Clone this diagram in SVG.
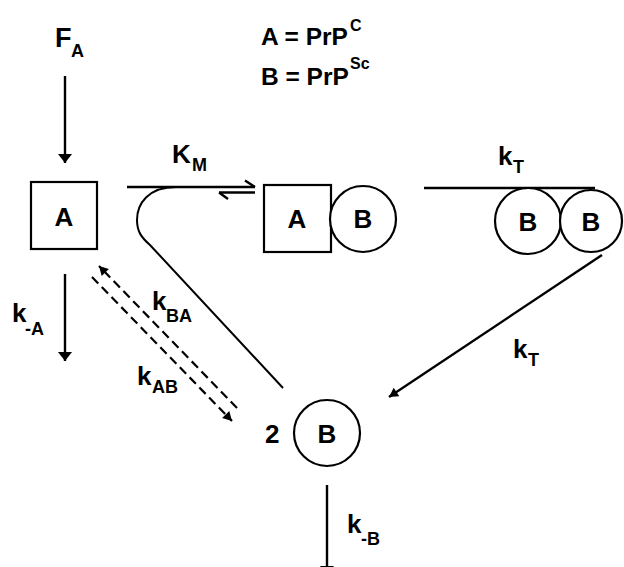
<svg xmlns="http://www.w3.org/2000/svg" width="624" height="567" viewBox="0 0 624 567">
  <style>
    text { font-family: "Liberation Sans", Arial, sans-serif; font-weight: bold; fill: #000; }
    .lbl { font-size: 26px; }
    .big { font-size: 27px; }
    .leg { font-size: 24.5px; }
    .sub { font-size: 18px; }
    .sup { font-size: 16px; }
    .mid { text-anchor: middle; }
    .shape { fill: #fff; stroke: #000; stroke-width: 2.2; }
    .conn { fill: none; stroke: #000; stroke-width: 2.4; }
    .thin { fill: none; stroke: #000; stroke-width: 2; }
    .dash { fill: none; stroke: #000; stroke-width: 2.2; stroke-dasharray: 9 5; }
  </style>
  <defs>
    <marker id="ah" viewBox="-11 -9 13 18" refX="0" refY="0" markerWidth="13" markerHeight="18" markerUnits="userSpaceOnUse" orient="auto">
      <path d="M-9,-7 L0,0 L-9,7 z" fill="#000"/>
    </marker>
    <marker id="ahs" viewBox="-10 -7 12 14" refX="0" refY="0" markerWidth="12" markerHeight="14" markerUnits="userSpaceOnUse" orient="auto">
      <path d="M-9,-5 L0,0 L-9,5 z" fill="#000"/>
    </marker>
  </defs>

  <rect width="624" height="567" fill="#fff"/>

  <!-- legend -->
  <g id="legend">
    <text class="leg" x="261" y="45">A = PrP</text>
    <text class="sup" x="350" y="31">C</text>
    <text class="leg" x="261" y="85">B = PrP</text>
    <text class="sup" x="350" y="69">Sc</text>
  </g>

  <!-- connectors -->
  <g id="connectors">
    <!-- influx of A -->
    <line class="conn" x1="65" y1="76" x2="65" y2="163" marker-end="url(#ah)"/>
    <!-- clearance of A -->
    <line class="conn" x1="65" y1="274" x2="65" y2="361" marker-end="url(#ah)"/>
    <!-- clearance of B -->
    <line class="conn" x1="327" y1="485" x2="327" y2="575" marker-end="url(#ah)"/>
    <!-- association equilibrium (K_M) -->
    <line class="conn" x1="127" y1="187" x2="255" y2="187"/>
    <line class="conn" x1="245" y1="180.5" x2="255" y2="187"/>
    <line class="conn" x1="219" y1="192.5" x2="255" y2="192.5"/>
    <line class="conn" x1="219" y1="192.5" x2="228" y2="199"/>
    <!-- B feeding into the association -->
    <path class="thin" d="M176 187 C148 187 137 204 137 220 C137 232 142 238 150 245 L283 388"/>
    <!-- conversion to B, then split -->
    <line class="conn" x1="424" y1="188" x2="595" y2="188"/>
    <line class="conn" x1="602" y1="255" x2="389" y2="397" marker-end="url(#ahs)"/>
    <!-- spontaneous conversion A <-> B -->
    <line class="dash" x1="237" y1="408" x2="99" y2="266" marker-end="url(#ahs)"/>
    <line class="dash" x1="92" y1="277" x2="232" y2="421" marker-end="url(#ahs)"/>
  </g>

  <!-- rate labels -->
  <g id="rates">
    <text class="big" x="55" y="47">F</text>
    <text class="sub" x="71" y="57">A</text>
    <text class="lbl" x="172" y="163">K</text>
    <text class="sub" x="192" y="171">M</text>
    <text class="lbl" x="498" y="165">k</text>
    <text class="sub" x="513" y="173">T</text>
    <text class="lbl" x="513" y="358">k</text>
    <text class="sub" x="528" y="366">T</text>
    <text class="lbl" x="12" y="322">k</text>
    <text class="sub" x="25" y="335">-A</text>
    <text class="lbl" x="152" y="310">k</text>
    <text class="sub" x="166" y="322">BA</text>
    <text class="lbl" x="137" y="385">k</text>
    <text class="sub" x="152" y="393">AB</text>
    <text class="lbl" x="347" y="533">k</text>
    <text class="sub" x="361" y="545">-B</text>
  </g>

  <!-- nodes -->
  <g id="node-A">
    <rect class="shape" x="31" y="182" width="66" height="67"/>
    <text class="lbl mid" x="64" y="226">A</text>
  </g>

  <g id="node-AB">
    <rect class="shape" x="264" y="185" width="67" height="67"/>
    <text class="lbl mid" x="297" y="228">A</text>
    <circle class="shape" cx="363" cy="219" r="33"/>
    <text class="lbl mid" x="363" y="228">B</text>
  </g>

  <g id="node-BB">
    <circle class="shape" cx="528" cy="221" r="33"/>
    <text class="lbl mid" x="528" y="231">B</text>
    <circle class="shape" cx="591" cy="221" r="31"/>
    <text class="lbl mid" x="591" y="231">B</text>
  </g>

  <g id="node-2B">
    <text class="lbl" x="265" y="443">2</text>
    <circle class="shape" cx="327" cy="433" r="33"/>
    <text class="lbl mid" x="327" y="443">B</text>
  </g>
</svg>
